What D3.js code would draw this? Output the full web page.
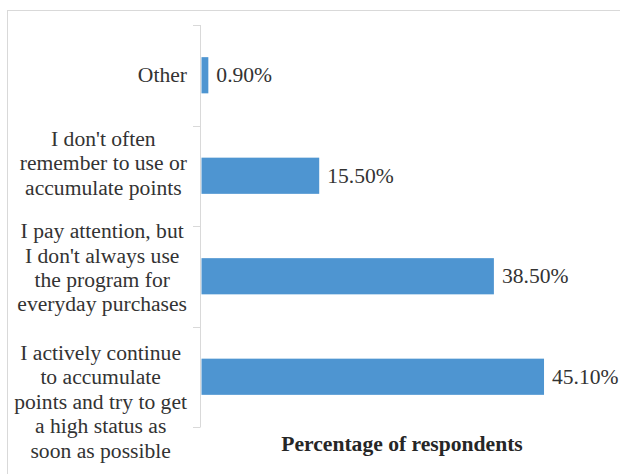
<!DOCTYPE html>
<html>
<head>
<meta charset="utf-8">
<script src="https://cdn.jsdelivr.net/npm/d3@7"></script>
<style>
  html, body { margin: 0; padding: 0; background: #fff; }
  svg { display: block; }
  svg text { font-family: "Liberation Serif", "Times New Roman", Times, serif; font-size: 21.6px; }
</style>
</head>
<body>
<div id="chart"></div>
<script>
// categories, top to bottom, already split into lines as in the source
const categories = [
  ["Other"],
  ["I don't often", "remember to use or", "accumulate points"],
  ["I pay attention, but", "I don't always use", "the program for", "everyday purchases"],
  ["I actively continue", "to accumulate", "points and try to get", "a high status as", "soon as possible"]
];
const values = [0.9, 15.5, 38.5, 45.1];
const axisTitle = "Percentage of respondents";

const W = 620, H = 474;
const textColor = "#333";
const barColor = "#4e95d1";

const svg = d3.select("#chart").append("svg").attr("width", W).attr("height", H);

// chart frame
svg.append("rect").attr("x", 7.5).attr("y", 10.5).attr("width", 700).attr("height", 600)
  .attr("fill", "none").attr("stroke", "#d9d9d9");

const keys = categories.map((c, i) => i);
const y = d3.scaleBand().domain(keys).range([25, 427]).paddingInner(0.64).paddingOuter(0.32);
const x = d3.scaleLinear().domain([0, 52.8]).range([201.5, 602.5]);

// category axis (ticks on band edges, like the original)
const ax = svg.append("g").attr("stroke", "#d9d9d9").attr("fill", "none");
ax.append("line").attr("x1", 200.5).attr("x2", 200.5).attr("y1", 25).attr("y2", 427);
d3.range(keys.length + 1).forEach(i => {
  const yy = Math.round(25 + i * y.step()) + 0.5;
  ax.append("line").attr("x1", 193).attr("x2", 200.5).attr("y1", yy).attr("y2", yy);
});

// bars
svg.selectAll("rect.bar").data(values).enter().append("rect").attr("class", "bar")
  .attr("x", x(0))
  .attr("y", (d, i) => y(i))
  .attr("width", d => x(d) - x(0))
  .attr("height", y.bandwidth())
  .attr("fill", barColor);

// value labels
svg.selectAll("text.val").data(values).enter().append("text").attr("class", "val")
  .attr("x", d => x(d) + 8)
  .attr("y", (d, i) => y(i) + y.bandwidth() / 2 + 7)
  .attr("fill", textColor)
  .text(d => d3.format(".2f")(d) + "%");

// category labels: block right edge at 187, lines centred on widest line
const lineH = 24.4;
const labelShift = [0, -12.5, -8.5, 25]; // vertical nudges seen in the source layout
categories.forEach((lines, i) => {
  const cy = y(i) + y.bandwidth() / 2 + labelShift[i];
  const g = svg.append("text").attr("fill", textColor).attr("text-anchor", "middle");
  const spans = lines.map((l, j) => g.append("tspan")
    .attr("y", cy + 7 + (j - (lines.length - 1) / 2) * lineH).text(l));
  const maxW = d3.max(spans, s => s.node().getComputedTextLength());
  spans.forEach(s => s.attr("x", 187 - maxW / 2));
});

// axis title
svg.append("text")
  .attr("x", (x.range()[0] + x.range()[1]) / 2).attr("y", 451)
  .attr("text-anchor", "middle")
  .attr("font-weight", "bold")
  .attr("fill", "#262626")
  .text(axisTitle);
</script>
</body>
</html>
